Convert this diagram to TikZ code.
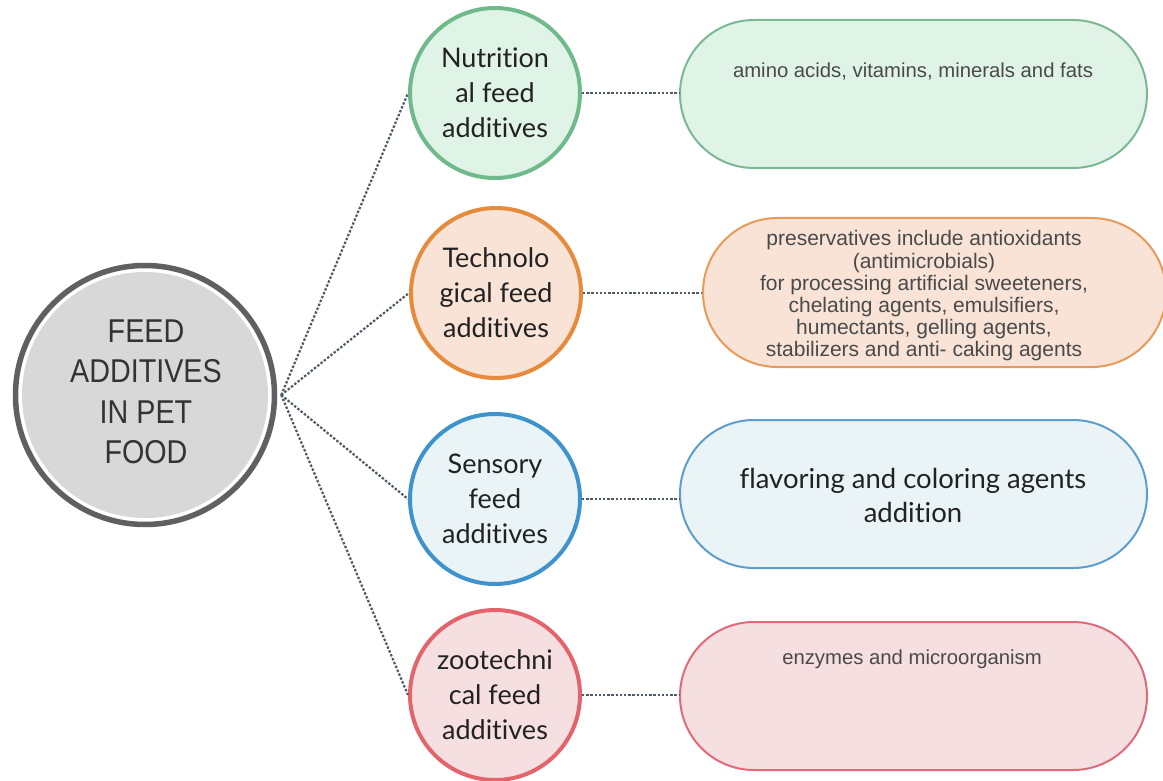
\documentclass[tikz,border=0pt]{standalone}
\usepackage{fontspec}
\setmainfont{Liberation Sans}
\newfontfamily\labelfont[Ligatures=NoCommon]{Lato}
\newfontfamily\hubfont[FakeStretch=0.87]{Liberation Sans}
\usetikzlibrary{shapes.misc}

\definecolor{hubring}{HTML}{606060}
\definecolor{hubfill}{HTML}{D8D8D8}
\definecolor{hubtext}{HTML}{333333}
\definecolor{dotc}{HTML}{4E5A66}
\definecolor{bodytext}{HTML}{4A4A4A}
\definecolor{labeltext}{HTML}{222222}
\definecolor{grnline}{HTML}{70B98A}
\definecolor{grnfill}{HTML}{DFF3E6}
\definecolor{grnpline}{HTML}{7BB894}
\definecolor{orgline}{HTML}{E68A3C}
\definecolor{orgfill}{HTML}{F8E3D6}
\definecolor{orgpline}{HTML}{E79B5A}
\definecolor{bluline}{HTML}{3E93CD}
\definecolor{blufill}{HTML}{EAF4F7}
\definecolor{blupline}{HTML}{5E9ECB}
\definecolor{redline}{HTML}{E4646C}
\definecolor{redfill}{HTML}{F5DFE0}
\definecolor{redpline}{HTML}{E06A7A}

\tikzset{
  typebubble/.style={circle, line width=4pt, minimum size=170pt, inner sep=0pt,
    align=center, text=labeltext, font=\labelfont\fontsize{27}{35}\selectfont},
  pill/.style={rounded rectangle, line width=2pt,
    minimum width=467pt, minimum height=148pt, inner sep=0pt},
  pilltext/.style={align=center, text=bodytext, inner sep=0pt,
    font=\fontsize{20.3}{22.2}\selectfont},
  dotline/.style={draw=dotc, line width=2.2pt, dash pattern=on 2.4pt off 1.8pt}
}

\begin{document}
\begin{tikzpicture}[x=1pt,y=-1pt]
\useasboundingbox (0,0) rectangle (1163,781);
\fill[white] (0,0) rectangle (1163,781);

% central hub: dark ring, white gap, grey core
\node[circle, draw=hubring, fill=white, line width=5.5pt, minimum size=259pt, inner sep=0pt] (hub) at (145,395) {};
\node[circle, fill=hubfill, minimum size=246pt, inner sep=0pt] (hubcore) at (145,395) {};
\node[align=center, text=hubtext, inner sep=0pt, font=\hubfont\fontsize{33}{40.5}\selectfont] (hubtitle) at (146,392)
  {FEED\\ADDITIVES\\IN PET\\FOOD};
\coordinate (fan) at ([xshift=4pt]hub.east);

% category bubbles
\node[typebubble, draw=grnline, fill=grnfill] (nut) at (495,93) {Nutrition\\al feed\\additives};
\node[typebubble, draw=orgline, fill=orgfill] (tech) at (496,293) {Technolo\\gical feed\\additives};
\node[typebubble, draw=bluline, fill=blufill] (sens) at (495,499) {Sensory\\feed\\additives};
\node[typebubble, draw=redline, fill=redfill] (zoo) at (495,695) {zootechni\\cal feed\\additives};

% description pills
\node[pill, draw=grnpline, fill=grnfill] (nutpill) at (913.5,94) {};
\node[pill, draw=orgpline, fill=orgfill, minimum width=463pt, minimum height=149pt] (techpill) at (934.5,292.5) {};
\node[pill, draw=blupline, fill=blufill] (senspill) at (913.5,494) {};
\node[pill, draw=redpline, fill=redfill] (zoopill) at (913.5,696) {};

\node[pilltext] (nuttext) at (913,71) {amino acids, vitamins, minerals and fats};
\node[pilltext, font=\fontsize{21}{22.2}\selectfont] (techtext) at (924,296) {preservatives include antioxidants\\(antimicrobials)\\for processing artificial sweeteners,\\chelating agents, emulsifiers,\\humectants, gelling agents,\\stabilizers and anti- caking agents};
\node[align=center, text=labeltext, inner sep=0pt, font=\labelfont\fontsize{27.5}{34}\selectfont] (senstext) at (913,495)
  {flavoring and coloring agents\\addition};
\node[pilltext] (zootext) at (912,659) {enzymes and microorganism};

% dotted connectors
\foreach \c in {nut,tech,sens,zoo}{
  \draw[dotline] (fan) -- (\c.west);
}
\draw[dotline] (nut.east) -- (nut.east -| nutpill.west);
\draw[dotline] (tech.east) -- (tech.east -| techpill.west);
\draw[dotline] (sens.east) -- (sens.east -| senspill.west);
\draw[dotline] (zoo.east) -- (zoo.east -| zoopill.west);
\end{tikzpicture}
\end{document}
